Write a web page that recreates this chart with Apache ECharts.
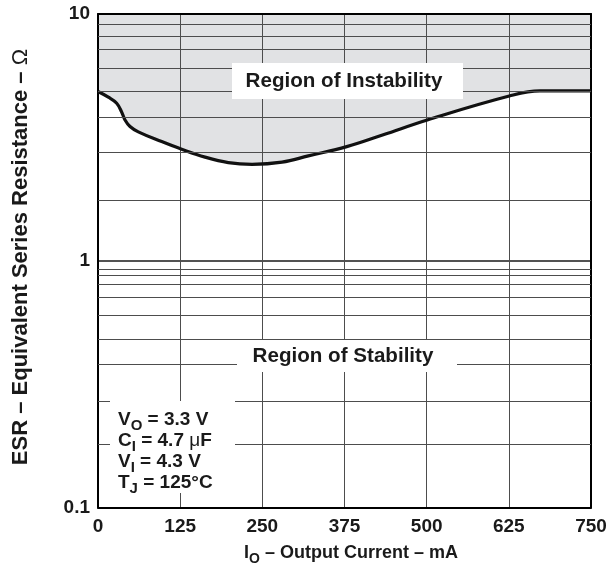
<!DOCTYPE html>
<html><head><meta charset="utf-8">
<script src="https://cdn.jsdelivr.net/npm/echarts@6/dist/echarts.min.js"></script>
<style>html,body{margin:0;padding:0;background:#fff}#c{width:611px;height:573px}</style>
</head><body><div id="c"></div>
<script>
// Data
const currentMA = [0, 15.7, 28.4, 36.1, 41.1, 48.7, 61.3, 96.9, 127.3, 162.8, 198.2, 234.3, 280, 320, 378.4, 434, 501, 625.7, 672.4, 750];
const esrOhm    = [4.85, 4.6, 4.35, 4.0, 3.72, 3.5, 3.33, 3.04, 2.83, 2.63, 2.5, 2.46, 2.51, 2.66, 2.9, 3.24, 3.72, 4.65, 4.88, 4.88];
const xTicks = [0, 125, 250, 375, 500, 625, 750];
const yMajorTicks = [0.1, 1, 10];
const yMinorGrid = [9.08, 8.12, 7.19, 6.0, 4.88, 3.8, 2.74, 1.76, 0.917, 0.867, 0.803, 0.715, 0.599, 0.485, 0.38, 0.274, 0.176];

const FONT = '"Liberation Sans", Arial, Helvetica, sans-serif';
const TXT = '#1a1a1a';
const GRIDC = '#4d4d4d';
const FILL = '#e1e2e4';

const pts = currentMA.map((x, i) => [x, esrOhm[i]]);
const chart = echarts.init(document.getElementById('c'), null, {renderer: 'canvas'});

function subRich(size) {
  return {
    m: {fontSize: size, fontWeight: 'bold', fontFamily: FONT, fill: TXT},
    s: {fontSize: Math.round(size * 0.78), fontWeight: 'bold', fontFamily: FONT, fill: TXT, padding: [12, 0, 0, 0]},
    n: {fontSize: size, fontWeight: 'normal', fontFamily: FONT, fill: TXT}
  };
}
function textEl(x, y, text, size, align, extra) {
  return Object.assign({
    type: 'text', z: 20, x: x, y: y,
    style: {text: text, fontSize: size, fontWeight: 'bold', fontFamily: FONT, fill: TXT,
      textAlign: align || 'center', textVerticalAlign: 'middle', rich: subRich(size)}
  }, extra || {});
}
function box(x, y, w, h) {
  return {type: 'rect', z: 15, shape: {x: x, y: y, width: w, height: h}, style: {fill: '#fff'}};
}

const option = {
  animation: false,
  backgroundColor: '#fff',
  grid: {left: 98, right: 20, top: 14, bottom: 65.5, containLabel: false},
  xAxis: [{
    type: 'value', min: xTicks[0], max: xTicks[xTicks.length - 1], interval: 125, z: 3,
    axisLine: {show: true, onZero: false, lineStyle: {color: '#000', width: 2}},
    axisTick: {show: false},
    axisLabel: {margin: 10, fontSize: 19, fontWeight: 'bold', fontFamily: FONT, color: TXT},
    splitLine: {show: true, lineStyle: {color: GRIDC, width: 1}}
  }, {
    type: 'value', position: 'top', min: 0, max: 750, z: 3,
    axisLine: {show: true, onZero: false, lineStyle: {color: '#000', width: 2}},
    axisTick: {show: false}, axisLabel: {show: false}, splitLine: {show: false}
  }],
  yAxis: [{
    type: 'log', logBase: 10, min: yMajorTicks[0], max: yMajorTicks[yMajorTicks.length - 1], z: 3,
    axisLine: {show: true, onZero: false, lineStyle: {color: '#000', width: 2}},
    axisTick: {show: false},
    axisLabel: {margin: 8, fontSize: 19, fontWeight: 'bold', fontFamily: FONT, color: TXT,
      formatter: v => String(+v.toPrecision(3))},
    splitLine: {show: true, lineStyle: {color: '#1a1a1a', width: 1.5}}
  }, {
    type: 'log', logBase: 10, min: 0.1, max: 10, position: 'right', z: 3,
    axisLine: {show: true, onZero: false, lineStyle: {color: '#000', width: 2}},
    axisTick: {show: false}, axisLabel: {show: false}, splitLine: {show: false}
  }],
  series: [{
    type: 'line', z: 1, data: pts, smooth: 0.4, symbol: 'none', silent: true,
    lineStyle: {width: 0, opacity: 0},
    areaStyle: {color: FILL, opacity: 1, origin: 'end'}
  }, {
    type: 'line', z: 3, data: [], symbol: 'none', silent: true,
    markLine: {
      silent: true, symbol: 'none', label: {show: false}, animation: false,
      lineStyle: {color: GRIDC, width: 1, type: 'solid'},
      data: yMinorGrid.map(v => ({yAxis: v}))
    }
  }, {
    type: 'line', z: 4, data: pts, smooth: 0.4, symbol: 'none', silent: true,
    lineStyle: {color: '#111', width: 3.2}
  }],
  graphic: [
    box(232, 63, 231, 36),
    box(237, 340, 220, 32),
    box(110, 401, 125, 92),
    textEl(344, 81, 'Region of Instability', 20.6),
    textEl(343, 356, 'Region of Stability', 20.6),
    textEl(118, 420, '{m|V}{s|O}{m| = 3.3 V}', 19, 'left'),
    textEl(118, 441, '{m|C}{s|I}{m| = 4.7 }{n|μ}{m|F}', 19, 'left'),
    textEl(118, 462, '{m|V}{s|I}{m| = 4.3 V}', 19, 'left'),
    textEl(118, 483, '{m|T}{s|J}{m| = 125°C}', 19, 'left'),
    textEl(351, 553, '{m|I}{s|O}{m| – Output Current – mA}', 18, 'center'),
    textEl(21, 257, '{m|ESR – Equivalent Series Resistance – }{n|Ω}', 22, 'center', {rotation: Math.PI / 2})
  ]
};
chart.setOption(option);
</script>
</body></html>
